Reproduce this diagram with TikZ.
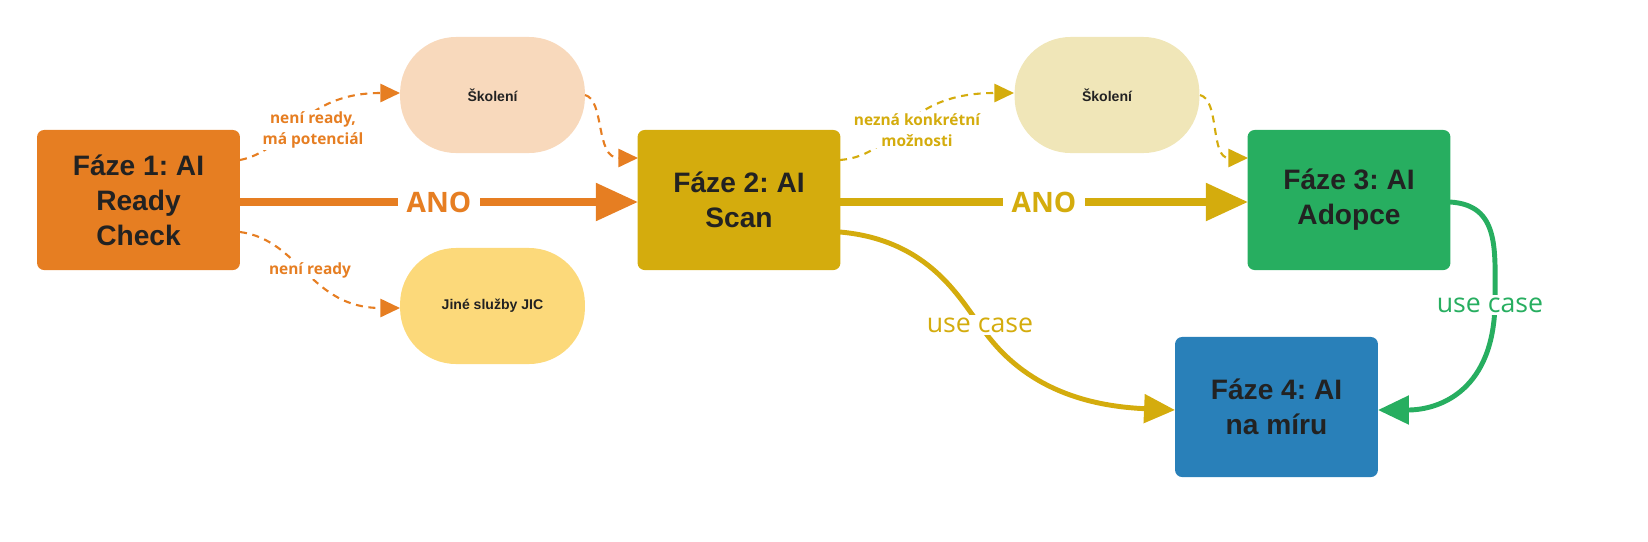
\documentclass[tikz,border=0pt]{standalone}
\usepackage{fontspec}
\setmainfont{Liberation Sans}
\newfontfamily\lab{Open Sans}
\usetikzlibrary{arrows.meta}
\frenchspacing
\definecolor{cO}{HTML}{E67E22}\definecolor{cY}{HTML}{D4AC0D}
\definecolor{cG}{HTML}{27AE60}\definecolor{cB}{HTML}{2980B9}
\definecolor{pO}{HTML}{F8D9BC}\definecolor{pY}{HTML}{FCD97A}\definecolor{pS}{HTML}{F0E6B8}
\definecolor{txt}{HTML}{222222}
\begin{document}
\begin{tikzpicture}[x=0.025cm,y=-0.025cm,
 phase/.style={fill=#1,rounded corners=5pt,minimum width=5.07cm,minimum height=3.5cm,inner sep=0pt,align=center,text=txt,font=\frenchspacing\fontsize{20}{25}\selectfont\bfseries},
 pill/.style={fill=#1,rounded corners=1.4cm,minimum width=4.62cm,minimum height=2.9cm,inner sep=0pt,font=\fontsize{10}{12}\selectfont\bfseries,text=txt},
 thick arr/.style={draw=#1,line width=5pt,-{Triangle[length=30pt,width=26pt]}},
 dash arr/.style={draw=#1,line width=1.5pt,dash pattern=on 5pt off 4pt,-{Triangle[length=14pt,width=13pt]}},
 curve arr/.style={draw=#1,line width=3.5pt,-{Triangle[length=22pt,width=20pt]}},
 lbl/.style={text=#1,font=\lab\fontsize{11}{15}\selectfont\bfseries,align=center,fill=white,inner sep=1pt}]
\useasboundingbox (0,0) rectangle (1648,541);
\node[phase=cO] (f1) at (138.5,200) {Fáze 1: AI\\Ready\\Check};
\node[phase=cY] (f2) at (739,200) {Fáze 2: AI\\Scan};
\node[phase=cG] (f3) at (1349,200) {Fáze 3: AI\\Adopce};
\node[phase=cB] (f4) at (1276.5,407) {Fáze 4: AI\\na míru};
\node[pill=pO] (s1) at (492.5,95) {Školení};
\node[pill=pY] (j) at (492.5,306) {Jiné služby JIC};
\node[pill=pS] (s2) at (1107,95) {Školení};
\coordinate (a1) at (240,202);\coordinate (a2) at (638,202);
\draw[thick arr=cO] (a1) -- node[lbl=cO,font=\lab\fontsize{20}{22}\selectfont\bfseries,inner xsep=6pt]{ANO} (a2);
\coordinate (b1) at (840,202);\coordinate (b2) at (1248,202);
\draw[thick arr=cY] (b1) -- node[lbl=cY,font=\lab\fontsize{20}{22}\selectfont\bfseries,inner xsep=6pt]{ANO} (b2);
\coordinate (c1) at (240,160);\coordinate (c2) at (400,93);
\draw[dash arr=cO] (c1) .. controls (290,150) and (300,93) .. (c2);
\node[lbl=cO] at (313,130) {není ready,\\má potenciál};
\coordinate (c3) at (240,232);\coordinate (c4) at (400,308);
\draw[dash arr=cO] (c3) .. controls (300,240) and (310,308) .. (c4);
\node[lbl=cO] at (310,270) {není ready};
\coordinate (d1) at (585,95);\coordinate (d2) at (638,158);
\draw[dash arr=cO] (d1) .. controls (605,100) and (595,158) .. (d2);
\coordinate (e1) at (840,160);\coordinate (e2) at (1014,93);
\draw[dash arr=cY] (e1) .. controls (900,155) and (900,93) .. (e2);
\node[lbl=cY] at (917,130) {nezná konkrétní\\možnosti};
\coordinate (g1) at (1200,95);\coordinate (g2) at (1248,158);
\draw[dash arr=cY] (g1) .. controls (1220,100) and (1210,158) .. (g2);
\coordinate (h1) at (840,232);\coordinate (h2) at (1175,410);
\draw[curve arr=cY] (h1) .. controls (930,240) and (960,300) .. (980,325) .. controls (1010,370) and (1060,405) .. (h2);
\node[text=cY,fill=white,font=\lab\fontsize{19}{21}\selectfont,inner sep=2pt] at (980,325) {use case};
\coordinate (k1) at (1450,202);\coordinate (k2) at (1378,410);
\draw[curve arr=cG] (k1) .. controls (1500,205) and (1495,250) .. (1495,300) .. controls (1495,390) and (1440,410) .. (k2);
\node[text=cG,fill=white,font=\lab\fontsize{19}{21}\selectfont,inner sep=2pt] at (1490,305) {use case};
\end{tikzpicture}
\end{document}
